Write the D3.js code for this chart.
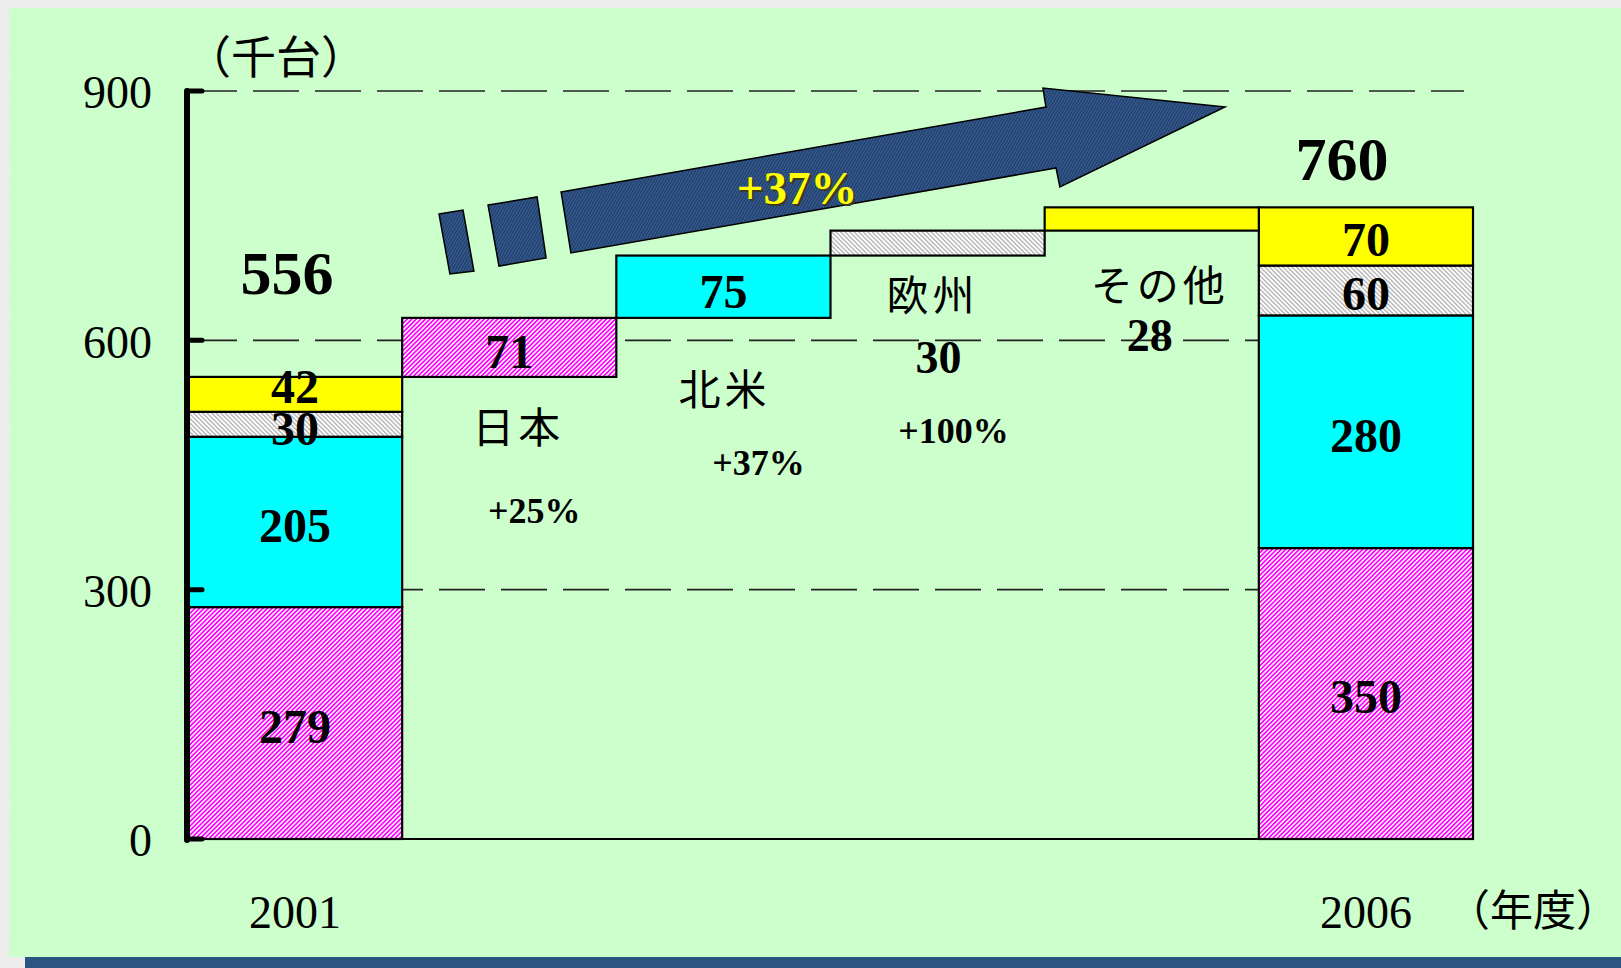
<!DOCTYPE html>
<html>
<head>
<meta charset="utf-8">
<script src="https://cdn.jsdelivr.net/npm/d3@7"></script>
<style>
  body { margin: 0; background: #e4e4e4; }
  svg { display: block; }
  .num { font-family: "Liberation Serif", "Times New Roman", serif; font-weight: bold; }
  .tick-label { font-family: "Liberation Serif", "Times New Roman", serif; }
  .jp { font-family: "Noto Sans CJK JP", "Noto Sans", sans-serif; }
</style>
</head>
<body>
<svg id="chart" width="1621" height="968"></svg>
<script>
// data
const categories = ["2001", "日本", "北米", "欧州", "その他", "2006"];
const regions = ["日本", "北米", "欧州", "その他"];
const values2001 = [279, 205, 30, 42];
const values2006 = [350, 280, 60, 70];
const increments = [71, 75, 30, 28];
const growth = ["+25%", "+37%", "+100%", ""];
const yTicks = [0, 300, 600, 900];
const totals = [556, 760];

const width = 1621, height = 968;
const margin = { top: 91, right: 148, bottom: 129, left: 188 };

const svg = d3.select("#chart");
const defs = svg.append("defs");

// background noise for the outer frame
const noise = defs.append("filter").attr("id", "noise");
noise.append("feTurbulence").attr("type", "fractalNoise").attr("baseFrequency", 0.35).attr("numOctaves", 2).attr("result", "t");
noise.append("feColorMatrix").attr("type", "matrix")
  .attr("values", "0 0 0 0 0.86  0 0 0 0 0.86  0 0 0 0 0.86  0 0 0 -1.2 1.1");

svg.append("rect").attr("width", width).attr("height", height).attr("fill", "#ececec");
svg.append("rect").attr("width", width).attr("height", height).attr("filter", "url(#noise)");

svg.append("rect").attr("x", 9).attr("y", 8).attr("width", width - 9).attr("height", 949).attr("fill", "#ccffcc");
svg.append("rect").attr("x", 25).attr("y", 957).attr("width", width - 25).attr("height", 11).attr("fill", "#2a5580");

// hatch patterns
function hatch(id, color, bg, size, lw, angle) {
  const p = defs.append("pattern").attr("id", id)
    .attr("patternUnits", "userSpaceOnUse")
    .attr("width", size).attr("height", size)
    .attr("patternTransform", `rotate(${angle})`);
  p.append("rect").attr("width", size).attr("height", size).attr("fill", bg);
  p.append("line").attr("x1", size / 2).attr("x2", size / 2).attr("y1", 0).attr("y2", size)
    .attr("stroke", color).attr("stroke-width", lw);
}
hatch("magentaHatch", "#ff00ff", "#ffffff", 3.2, 1.7, 45);
hatch("greyHatch", "#a8a8a8", "#ffffff", 3.2, 1.2, -45);
hatch("arrowTex", "#1e3963", "#365b90", 2.6, 1.1, 30);

const fills = ["url(#magentaHatch)", "#00ffff", "url(#greyHatch)", "#ffff00"];

const x = d3.scaleBand().domain(d3.range(categories.length))
  .range([margin.left, width - margin.right]).padding(0);
const y = d3.scaleLinear().domain([0, 900]).range([height - margin.bottom, margin.top]);

// dashed gridlines
svg.append("g").selectAll("line")
  .data(yTicks.filter(d => d > 0))
  .join("line")
  .attr("x1", margin.left + 3).attr("x2", 1464)
  .attr("y1", d => y(d)).attr("y2", d => y(d))
  .attr("stroke", "#222").attr("stroke-width", 1.6)
  .attr("stroke-dasharray", "46 16");

// baseline
svg.append("line")
  .attr("x1", margin.left).attr("x2", x(5) + x.bandwidth())
  .attr("y1", y(0)).attr("y2", y(0))
  .attr("stroke", "#000").attr("stroke-width", 2);

// stacked bars
function stack(vals) {
  let acc = 0;
  return vals.map((v, i) => { const d = { i, v, y0: acc, y1: acc + v }; acc += v; return d; });
}
const bars = [{ band: 0, segs: stack(values2001) }, { band: 5, segs: stack(values2006) }];

bars.forEach(b => {
  const g = svg.append("g");
  g.selectAll("rect").data(b.segs).join("rect")
    .attr("x", x(b.band)).attr("width", x.bandwidth())
    .attr("y", d => y(d.y1)).attr("height", d => y(d.y0) - y(d.y1))
    .attr("fill", d => fills[d.i])
    .attr("stroke", "#000").attr("stroke-width", 2.2);
  g.selectAll("text").data(b.segs).join("text")
    .attr("class", "num")
    .attr("x", x(b.band) + x.bandwidth() / 2)
    .attr("y", d => y((d.y0 + d.y1) / 2) + (d.i === 3 && b.band === 0 ? -7 : (d.i === 2 && b.band === 0 ? 5 : 4)))
    .attr("dy", "0.33em")
    .attr("text-anchor", "middle")
    .attr("font-size", 48)
    .text(d => d.v);
});

// waterfall steps
let base = totals[0];
const steps = increments.map((v, i) => { const d = { i, v, y0: base, y1: base + v }; base += v; return d; });

svg.append("g").selectAll("rect").data(steps).join("rect")
  .attr("x", d => x(d.i + 1)).attr("width", x.bandwidth())
  .attr("y", d => y(d.y1)).attr("height", d => y(d.y0) - y(d.y1))
  .attr("fill", d => fills[d.i])
  .attr("stroke", "#000").attr("stroke-width", 2.2);

svg.append("g").selectAll("text").data(steps.slice(0, 2)).join("text")
  .attr("class", "num")
  .attr("x", d => x(d.i + 1) + x.bandwidth() / 2)
  .attr("y", d => y((d.y0 + d.y1) / 2) + 5)
  .attr("dy", "0.33em")
  .attr("text-anchor", "middle")
  .attr("font-size", 48)
  .text(d => d.v);

// region annotations: [dx from band centre, value]
const annLayout = [
  { name: [9, 499], num: null, pct: [25, 394] },
  { name: [1, 545], num: null, pct: [35, 452] },
  { name: [-5, 657], num: [1, 579], pct: [16, 491] },
  { name: [8, 670], num: [-2, 605], pct: null }
];
regions.forEach((r, i) => {
  const cx = x(i + 1) + x.bandwidth() / 2;
  const L = annLayout[i];
  svg.append("text").attr("class", "jp")
    .attr("x", cx + L.name[0]).attr("y", y(L.name[1]))
    .attr("dominant-baseline", "central").attr("text-anchor", "middle")
    .attr("font-size", 42).attr("letter-spacing", 4)
    .text(r);
  if (L.num) {
    svg.append("text").attr("class", "num")
      .attr("x", cx + L.num[0]).attr("y", y(L.num[1]))
      .attr("dy", "0.33em").attr("text-anchor", "middle")
      .attr("font-size", 46)
      .text(increments[i]);
  }
  if (L.pct && growth[i]) {
    svg.append("text").attr("class", "num")
      .attr("x", cx + L.pct[0]).attr("y", y(L.pct[1]))
      .attr("dy", "0.33em").attr("text-anchor", "middle")
      .attr("font-size", 36)
      .text(growth[i]);
  }
});

// totals
svg.append("text").attr("class", "num")
  .attr("x", x(0) + x.bandwidth() / 2 - 8).attr("y", y(680))
  .attr("dy", "0.33em").attr("text-anchor", "middle").attr("font-size", 62)
  .text(totals[0]);
svg.append("text").attr("class", "num")
  .attr("x", x(5) + x.bandwidth() / 2 - 24).attr("y", y(817))
  .attr("dy", "0.33em").attr("text-anchor", "middle").attr("font-size", 62)
  .text(totals[1]);

// growth arrow, points in [band units, value]
const arrowMain = [[1.742, 778.5], [4.006, 880.7], [3.992, 903.6], [4.842, 880.7], [4.071, 784.5], [4.053, 807.4], [1.788, 705.1]];
const arrowPieces = [
  [[1.401, 762.8], [1.630, 772.5], [1.672, 699.1], [1.452, 689.4]],
  [[1.172, 752.0], [1.284, 756.8], [1.335, 683.4], [1.223, 679.8]]
];
const bw = x.bandwidth();
const line = d3.line().x(d => margin.left + d[0] * bw).y(d => y(d[1])).curve(d3.curveLinearClosed);
svg.append("g").selectAll("path").data([arrowMain, ...arrowPieces]).join("path")
  .attr("d", line)
  .attr("fill", "url(#arrowTex)")
  .attr("stroke", "#000").attr("stroke-width", 1.5).attr("stroke-linejoin", "miter");

const arrowLabelX = margin.left + 2.844 * bw, arrowLabelY = y(783);
svg.append("text").attr("class", "num")
  .attr("x", arrowLabelX + 2).attr("y", arrowLabelY + 2)
  .attr("dy", "0.33em").attr("text-anchor", "middle").attr("font-size", 47)
  .attr("fill", "#3a3a20").text("+37%");
svg.append("text").attr("class", "num")
  .attr("x", arrowLabelX).attr("y", arrowLabelY)
  .attr("dy", "0.33em").attr("text-anchor", "middle").attr("font-size", 47)
  .attr("fill", "#ffff00").text("+37%");

// y axis
svg.append("line")
  .attr("x1", margin.left - 1).attr("x2", margin.left - 1)
  .attr("y1", y(900)).attr("y2", y(0) + 1)
  .attr("stroke", "#000").attr("stroke-width", 6).attr("stroke-linecap", "round");
svg.append("g").selectAll("line").data(yTicks).join("line")
  .attr("x1", margin.left).attr("x2", margin.left + 14)
  .attr("y1", d => y(d)).attr("y2", d => y(d))
  .attr("stroke", "#000").attr("stroke-width", 5).attr("stroke-linecap", "round");
svg.append("g").selectAll("text").data(yTicks).join("text")
  .attr("class", "tick-label")
  .attr("x", 152).attr("y", d => y(d) + 2)
  .attr("dy", "0.33em").attr("text-anchor", "end")
  .attr("font-size", 46)
  .text(d => d);

// x labels
svg.append("g").selectAll("text").data([0, 5]).join("text")
  .attr("class", "tick-label")
  .attr("x", d => x(d) + x.bandwidth() / 2).attr("y", 913)
  .attr("dy", "0.33em").attr("text-anchor", "middle")
  .attr("font-size", 46)
  .text(d => categories[d]);

// unit labels
svg.append("text").attr("class", "jp")
  .attr("x", 276).attr("y", 54).attr("dominant-baseline", "central")
  .attr("text-anchor", "middle").attr("font-size", 45)
  .text("（千台）");
svg.append("text").attr("class", "jp")
  .attr("x", 1533).attr("y", 907).attr("dominant-baseline", "central")
  .attr("text-anchor", "middle").attr("font-size", 43)
  .text("（年度）");
</script>
</body>
</html>
